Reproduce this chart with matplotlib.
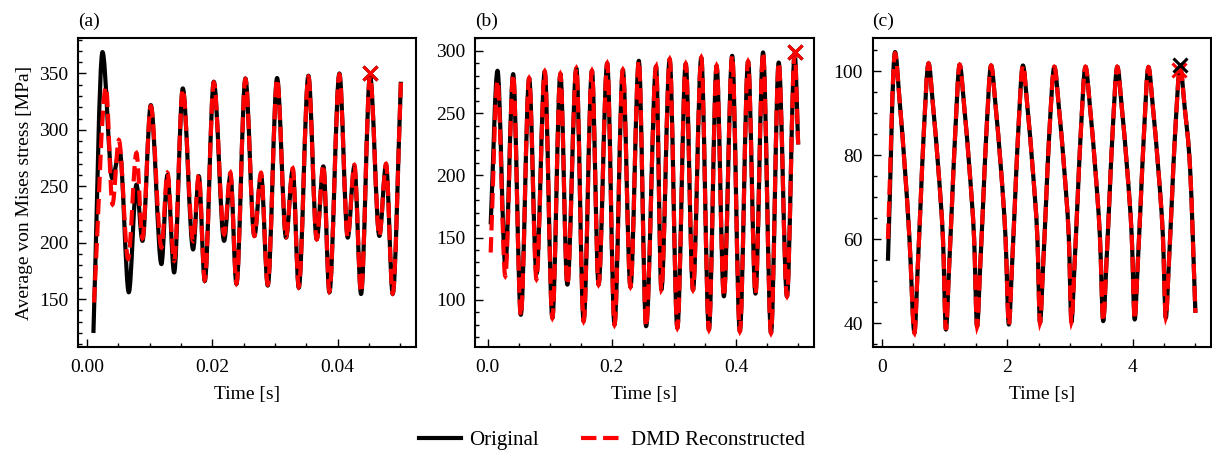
import numpy as np
import matplotlib.pyplot as plt
from matplotlib.ticker import AutoMinorLocator
from matplotlib.path import Path
from matplotlib.patches import PathPatch
from matplotlib.lines import Line2D

plt.rcParams['font.family'] = ['Liberation Serif', 'DejaVu Serif']
plt.rcParams['font.size'] = 14
plt.rcParams['xtick.direction'] = 'in'
plt.rcParams['ytick.direction'] = 'in'

# (a) 0.05 s window
t_a = [0.0010, 0.00245, 0.0040, 0.0052, 0.00665, 0.00787, 0.00883, 0.01016, 0.01186, 0.01282,
       0.01389, 0.01527, 0.01692, 0.01783, 0.01878, 0.02022, 0.02187, 0.02288, 0.02384, 0.02527,
       0.0267, 0.02777, 0.02884, 0.03033, 0.03176, 0.03283, 0.03379, 0.03533, 0.03666, 0.03772,
       0.03868, 0.04028, 0.04161, 0.04267, 0.04374, 0.04517, 0.04666, 0.04773, 0.04879, 0.0501]
orig_a = [120, 369, 257, 281, 156, 251.5, 201.6, 322, 181, 260,
          173.6, 336.8, 194, 259, 166, 342.7, 201.6, 260, 163.3, 345.6,
          206, 260, 162, 346, 204.5, 264.7, 160, 348, 203, 267.7,
          156, 350, 204.5, 267.7, 154.5, 348.5, 206, 269, 154.5, 342.7]
t_a_dmd = [0.0011, 0.0030, 0.00404, 0.00506, 0.00654] + t_a[5:]
dmd_a = [147, 338, 234, 291, 185.5, 279.5, 204, 321, 195.7, 262,
         184, 336, 201.6, 260, 167, 342, 207.4, 262, 164, 345,
         206, 262, 163, 345, 205, 266, 161, 347, 203, 269,
         157, 349, 205, 269, 156, 348, 206, 270, 155, 342]

# (b) 0.5 s window
t_b = [0.005, 0.016, 0.0285, 0.0412, 0.0535, 0.0669, 0.0787, 0.092, 0.1043, 0.1172,
       0.1284, 0.1429, 0.1546, 0.168, 0.1787, 0.1926, 0.2043, 0.2178, 0.23, 0.2435,
       0.2552, 0.2713, 0.2798, 0.2932, 0.3055, 0.319, 0.3307, 0.344, 0.3563, 0.3687,
       0.3804, 0.3938, 0.4061, 0.4194, 0.4313, 0.4435, 0.4563, 0.4687, 0.482, 0.4944, 0.5]
orig_b = [160.6, 284, 128, 281.3, 88, 278, 121, 283.4, 85.4, 281.5,
          112.2, 286, 82.8, 284, 112.2, 290, 80, 284.7, 110.3, 292,
          78.8, 287.4, 108.2, 293.3, 77.4, 289.6, 108, 294.6, 76, 288,
          102.8, 296, 74.7, 291.4, 105, 298.7, 73.4, 290.6, 102.8, 298, 224.8]
dmd_b = [138, 276, 119, 281, 87, 278, 116.5] + orig_b[7:]

# (c) 5 s window
t_c = [0.1, 0.213,
       0.283, 0.373, 0.443, 0.523, 0.571, 0.619, 0.667, 0.747,
       0.816, 0.907, 0.977, 1.024, 1.072, 1.120, 1.168, 1.243,
       1.313, 1.403, 1.473, 1.520, 1.568, 1.616, 1.664, 1.744,
       1.814, 1.904, 1.974, 2.027, 2.075, 2.123, 2.171, 2.251,
       2.321, 2.411, 2.481, 2.523, 2.571, 2.619, 2.667, 2.752,
       2.822, 2.912, 2.982, 3.024, 3.072, 3.120, 3.168, 3.248,
       3.318, 3.408, 3.478, 3.531, 3.579, 3.627, 3.675, 3.755,
       3.825, 3.915, 3.985, 4.032, 4.080, 4.128, 4.176, 4.251,
       4.321, 4.411, 4.481, 4.528, 4.576, 4.624, 4.672, 4.757,
       4.827, 4.917, 5.0]
orig_c = [54.9, 104.6,
          93.5, 76.2, 60.1, 37.7, 52.1, 68.1, 84.2, 101.9,
          92.2, 76.0, 60.0, 38.5, 52.5, 68.2, 84.0, 101.6,
          92.0, 76.0, 60.2, 39.2, 52.8, 68.3, 84.0, 101.4,
          92.0, 76.2, 60.3, 39.7, 53.0, 68.5, 84.1, 101.4,
          91.8, 76.0, 60.5, 40.1, 53.2, 68.5, 84.0, 101.1,
          91.8, 76.2, 60.6, 40.3, 53.4, 68.6, 84.0, 101.1,
          91.8, 76.1, 60.7, 40.5, 53.5, 68.7, 84.1, 101.1,
          91.7, 76.2, 60.8, 40.9, 53.8, 68.8, 84.0, 101.0,
          91.7, 76.3, 61.0, 41.3, 54.0, 69.0, 84.1, 101.0,
          91.7, 76.3, 42.5]
dmd_c = [60.1, 104.3] + orig_c[2:]

times = [t_a, t_b, t_c]
originals = [orig_a, orig_b, orig_c]
times_dmd = [t_a_dmd, t_b, t_c]
dmds = [dmd_a, dmd_b, dmd_c]
labels = ['(a)', '(b)', '(c)']
# marked maxima in the last period (original, DMD)
mark_orig = [(0.0452, 350), (0.4944, 299), (4.757, 101.4)]
mark_dmd = [(0.0452, 350), (0.4944, 299), (4.745, 100.4)]
dmd_mark_on_top = [True, True, False]


def smooth_path(t, y):
    # cubic segments through the read points, flat at the turning points
    t = np.asarray(t, float)
    y = np.asarray(y, float)
    n = len(t)
    m = np.zeros(n)
    m[0] = (y[1] - y[0]) / (t[1] - t[0])
    m[-1] = (y[-1] - y[-2]) / (t[-1] - t[-2])
    for k in range(1, n - 1):
        if (y[k] - y[k - 1]) * (y[k + 1] - y[k]) > 0:
            m[k] = (y[k + 1] - y[k - 1]) / (t[k + 1] - t[k - 1])
    verts = [(t[0], y[0])]
    codes = [Path.MOVETO]
    for k in range(n - 1):
        h = (t[k + 1] - t[k]) / 3
        verts += [(t[k] + h, y[k] + m[k] * h), (t[k + 1] - h, y[k + 1] - m[k + 1] * h), (t[k + 1], y[k + 1])]
        codes += [Path.CURVE4] * 3
    return Path(verts, codes)


fig, axes = plt.subplots(1, 3, figsize=(12.12, 4.51), dpi=100)
fig.subplots_adjust(left=0.0644, right=0.999, bottom=0.2306, top=0.9157, wspace=0.1746)

for i, ax in enumerate(axes):
    ax.add_patch(PathPatch(smooth_path(times[i], originals[i]), fill=False, edgecolor='black',
                           lw=3, joinstyle='round', zorder=2))
    ax.add_patch(PathPatch(smooth_path(times_dmd[i], dmds[i]), fill=False, edgecolor='red',
                           lw=3, ls='--', zorder=3))
    ax.autoscale_view()
    zo = (5, 4) if dmd_mark_on_top[i] else (4, 5)
    ax.plot(*mark_orig[i], marker='x', color='black', ms=10, mew=2.2, zorder=zo[1])
    ax.plot(*mark_dmd[i], marker='x', color='red', ms=10, mew=2.2, zorder=zo[0])
    ax.set_xlabel('Time [s]', labelpad=6.5)
    ax.set_title(labels[i], loc='left', fontsize=14, pad=9)
    ax.xaxis.set_minor_locator(AutoMinorLocator())
    ax.yaxis.set_minor_locator(AutoMinorLocator())
    ax.tick_params(which='major', length=6, width=1)
    ax.tick_params(which='minor', length=3, width=1)
    ax.tick_params(axis='x', which='major', pad=9)
    ax.tick_params(axis='y', which='major', pad=7)
    for s in ax.spines.values():
        s.set_linewidth(1.5)

axes[0].set_ylabel('Average von Mises stress [MPa]')
axes[0].set_xticks([0.00, 0.02, 0.04])
axes[0].set_xticklabels(['0.00', '0.02', '0.04'])
axes[1].set_xticks([0.0, 0.2, 0.4])
axes[2].set_xticks([0, 2, 4])

handles = [Line2D([], [], color='black', lw=3, label='Original'),
           Line2D([], [], color='red', lw=3, ls='--', label='DMD Reconstructed')]
fig.legend(handles=handles, loc='lower center', ncol=2, frameon=False, fontsize=15,
           bbox_to_anchor=(0.505, -0.04), columnspacing=2.0, handlelength=2.0, handletextpad=0.4)

fig.savefig('out.png', dpi=100)
